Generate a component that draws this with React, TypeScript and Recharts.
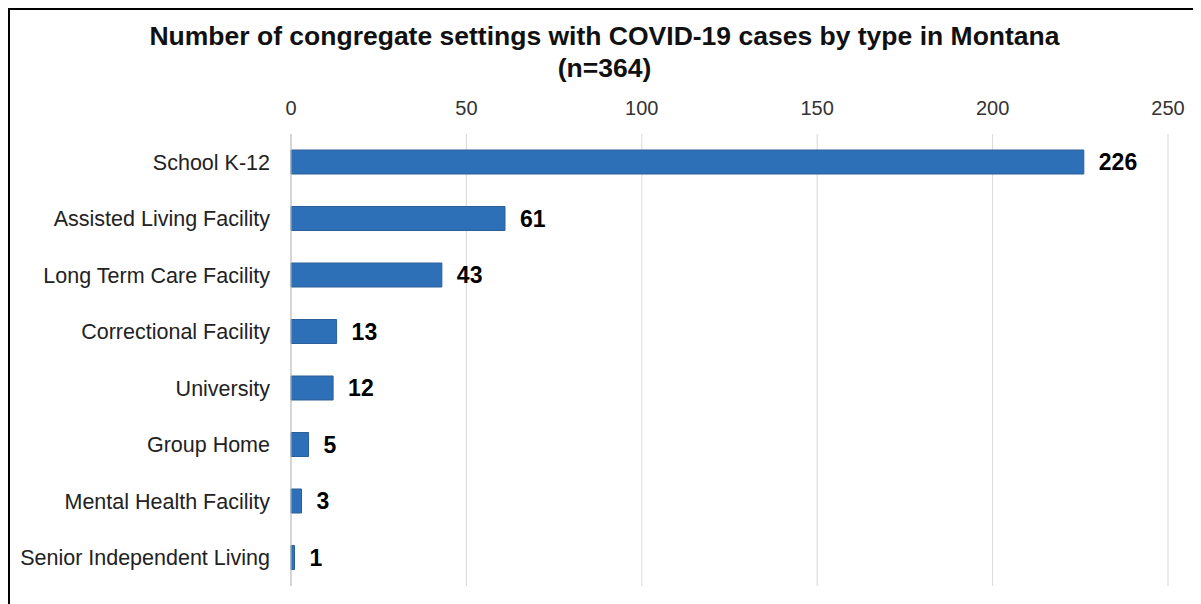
import React from 'react';
import { BarChart, Bar, XAxis, YAxis, CartesianGrid, LabelList } from 'recharts';

const categories = [
  'School K-12',
  'Assisted Living Facility',
  'Long Term Care Facility',
  'Correctional Facility',
  'University',
  'Group Home',
  'Mental Health Facility',
  'Senior Independent Living',
];
const counts = [226, 61, 43, 13, 12, 5, 3, 1];
const xTicks = [0, 50, 100, 150, 200, 250];

const FONT = '"Liberation Sans", Arial, sans-serif';

const App: React.FC = () => {
  const data = categories.map((name, i) => ({ name, value: counts[i] }));

  return (
    <div style={{ position: 'relative', width: 1193, height: 596, fontFamily: FONT }}>
      {/* frame, only left and top edges visible */}
      <div
        style={{
          position: 'absolute',
          left: 0,
          top: 0,
          width: 1193,
          height: 596,
          borderLeft: '2px solid #000',
          borderTop: '2px solid #000',
          boxSizing: 'border-box',
        }}
      />
      <div
        style={{
          position: 'absolute',
          left: 0,
          top: 12,
          width: 1193,
          textAlign: 'center',
          fontWeight: 'bold',
          fontSize: 26.5,
          lineHeight: '32px',
          color: '#111',
        }}
      >
        <div>Number of congregate settings with COVID-19 cases by type in Montana</div>
        <div>(n=364)</div>
      </div>
      <div style={{ position: 'absolute', left: 0, top: 0 }}>
        <BarChart
          width={1193}
          height={596}
          data={data}
          layout="vertical"
          margin={{ top: 96, right: 33, bottom: 18, left: 3 }}
          barCategoryGap={16}
        >
          <CartesianGrid horizontal={false} stroke="#D9D9D9" />
          <XAxis
            type="number"
            orientation="top"
            domain={[0, 250]}
            ticks={xTicks}
            height={30}
            axisLine={false}
            tickLine={false}
            tickSize={8}
            tickMargin={11}
            tick={{ fill: '#333', fontSize: 20, fontFamily: FONT }}
          />
          <YAxis
            type="category"
            dataKey="name"
            width={280}
            axisLine={{ stroke: '#BFBFBF' }}
            tickLine={false}
            tickSize={6}
            tickMargin={15}
            tick={{ fill: '#222', fontSize: 21.5, fontFamily: FONT }}
            interval={0}
          />
          <Bar
            dataKey="value"
            fill="#2E70B8"
            stroke="#2A5F99"
            strokeWidth={1}
            barSize={24}
            isAnimationActive={false}
          >
            <LabelList
              dataKey="value"
              position="right"
              offset={15}
              style={{ fill: '#000', fontSize: 23, fontWeight: 'bold', fontFamily: FONT }}
            />
          </Bar>
        </BarChart>
      </div>
    </div>
  );
};

export default App;
